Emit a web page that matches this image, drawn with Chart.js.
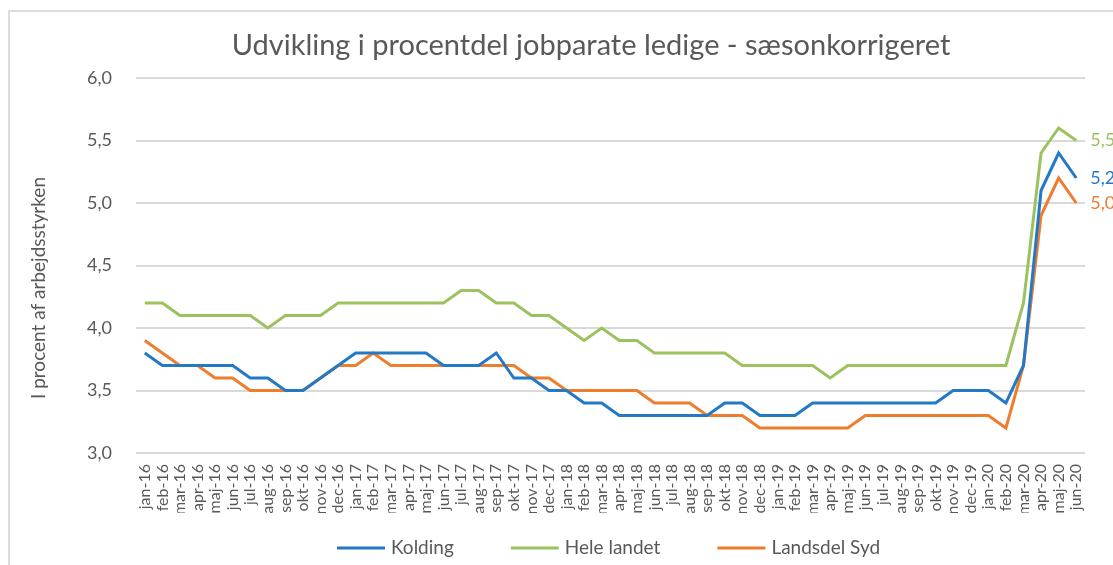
<!DOCTYPE html>
<html>
<head>
<meta charset="utf-8">
<script src="https://cdn.jsdelivr.net/npm/chart.js@4/dist/chart.umd.min.js"></script>
<style>
    body { margin: 0; background: #fff; }
    #frame { position: absolute; left: 8px; top: 10px; width: 1200px; height: 600px; border: 2px solid #dcdcdc; }
    #wrap { position: absolute; left: 0; top: 0; width: 1113px; height: 565px; }
</style>
</head>
<body>
<div id="frame"></div>
<div id="wrap"><canvas id="lineChartCanvas"></canvas></div>
<script>
const chartTitle = "Udvikling i procentdel jobparate ledige - sæsonkorrigeret";
const yTitle = "I procent af arbejdsstyrken";

// month labels, jan-16 .. jun-20
const months = ["jan", "feb", "mar", "apr", "maj", "jun", "jul", "aug", "sep", "okt", "nov", "dec"];
const years = ["16", "17", "18", "19", "20"];
const labels = [];
for (const y of years) {
    for (const m of months) labels.push(m + "-" + y);
}
labels.length = 54;

const kolding = [
    3.8, 3.7, 3.7, 3.7, 3.7, 3.7, 3.6, 3.6, 3.5, 3.5, 3.6, 3.7,
    3.8, 3.8, 3.8, 3.8, 3.8, 3.7, 3.7, 3.7, 3.8, 3.6, 3.6, 3.5,
    3.5, 3.4, 3.4, 3.3, 3.3, 3.3, 3.3, 3.3, 3.3, 3.4, 3.4, 3.3,
    3.3, 3.3, 3.4, 3.4, 3.4, 3.4, 3.4, 3.4, 3.4, 3.4, 3.5, 3.5,
    3.5, 3.4, 3.7, 5.1, 5.4, 5.2
];
const heleLandet = [
    4.2, 4.2, 4.1, 4.1, 4.1, 4.1, 4.1, 4.0, 4.1, 4.1, 4.1, 4.2,
    4.2, 4.2, 4.2, 4.2, 4.2, 4.2, 4.3, 4.3, 4.2, 4.2, 4.1, 4.1,
    4.0, 3.9, 4.0, 3.9, 3.9, 3.8, 3.8, 3.8, 3.8, 3.8, 3.7, 3.7,
    3.7, 3.7, 3.7, 3.6, 3.7, 3.7, 3.7, 3.7, 3.7, 3.7, 3.7, 3.7,
    3.7, 3.7, 4.2, 5.4, 5.6, 5.5
];
const landsdelSyd = [
    3.9, 3.8, 3.7, 3.7, 3.6, 3.6, 3.5, 3.5, 3.5, 3.5, 3.6, 3.7,
    3.7, 3.8, 3.7, 3.7, 3.7, 3.7, 3.7, 3.7, 3.7, 3.7, 3.6, 3.6,
    3.5, 3.5, 3.5, 3.5, 3.5, 3.4, 3.4, 3.4, 3.3, 3.3, 3.3, 3.2,
    3.2, 3.2, 3.2, 3.2, 3.2, 3.3, 3.3, 3.3, 3.3, 3.3, 3.3, 3.3,
    3.3, 3.2, 3.7, 4.9, 5.2, 5.0
];

const fontFamily = "Lato, 'Open Sans', sans-serif";
const grey = "#595959";

const comma = v => v.toFixed(1).replace(".", ",");

// title, y axis title, legend and the end labels, placed like the excel chart
const decorations = {
    id: "decorations",
    afterDraw(chart) {
        const ctx = chart.ctx;
        ctx.save();
        ctx.fillStyle = grey;
        ctx.textBaseline = "middle";

        // title
        ctx.font = "29px " + fontFamily;
        ctx.textAlign = "center";
        ctx.fillText(chartTitle, 591, 46);

        // y axis title
        ctx.save();
        ctx.translate(39, 288);
        ctx.rotate(-Math.PI / 2);
        ctx.font = "19px " + fontFamily;
        ctx.fillText(yTitle, 0, 0);
        ctx.restore();

        // legend
        ctx.font = "19px " + fontFamily;
        ctx.textAlign = "left";
        let x = 337;
        chart.data.datasets.forEach(ds => {
            ctx.strokeStyle = ds.borderColor;
            ctx.lineWidth = 3;
            ctx.beginPath();
            ctx.moveTo(x, 548);
            ctx.lineTo(x + 48, 548);
            ctx.stroke();
            ctx.fillStyle = grey;
            ctx.fillText(ds.label, x + 54, 548);
            x += 54 + ctx.measureText(ds.label).width + 57;
        });

        // value of the last point
        ctx.font = "18px " + fontFamily;
        chart.data.datasets.forEach((ds, i) => {
            const pts = chart.getDatasetMeta(i).data;
            const p = pts[pts.length - 1];
            ctx.fillStyle = ds.borderColor;
            ctx.fillText(comma(ds.data[ds.data.length - 1]), p.x + 14, p.y);
        });
        ctx.restore();
    }
};

function makeDataset(label, data, color) {
    return {
        label: label,
        data: data,
        borderColor: color,
        backgroundColor: color,
        borderWidth: 3,
        pointRadius: 0,
        tension: 0
    };
}

new Chart(document.querySelector("#lineChartCanvas"), {
    type: "line",
    data: {
        labels: labels,
        datasets: [
            makeDataset("Kolding", kolding, "#2479c5"),
            makeDataset("Hele landet", heleLandet, "#9bc25f"),
            makeDataset("Landsdel Syd", landsdelSyd, "#ee7d2d")
        ]
    },
    options: {
        responsive: true,
        maintainAspectRatio: false,
        animation: false,
        layout: { padding: { left: 0, right: 28, top: 78, bottom: 52 } },
        plugins: {
            title: { display: false },
            legend: { display: false },
            tooltip: { enabled: false }
        },
        scales: {
            x: {
                offset: true,
                grid: { display: false },
                border: { display: false },
                ticks: {
                    color: grey,
                    font: { family: fontFamily, size: 16 },
                    autoSkip: false,
                    minRotation: 90,
                    maxRotation: 90,
                    padding: 3
                },
                afterFit(scale) { scale.height = 60; }
            },
            y: {
                min: 3,
                max: 6,
                border: { display: false },
                grid: { color: "#d9d9d9", lineWidth: 2, drawTicks: false },
                ticks: {
                    stepSize: 0.5,
                    color: grey,
                    font: { family: fontFamily, size: 18 },
                    padding: 24,
                    callback: v => comma(v)
                },
                afterFit(scale) { scale.width = 136; }
            }
        }
    },
    plugins: [decorations]
});
</script>
</body>
</html>
